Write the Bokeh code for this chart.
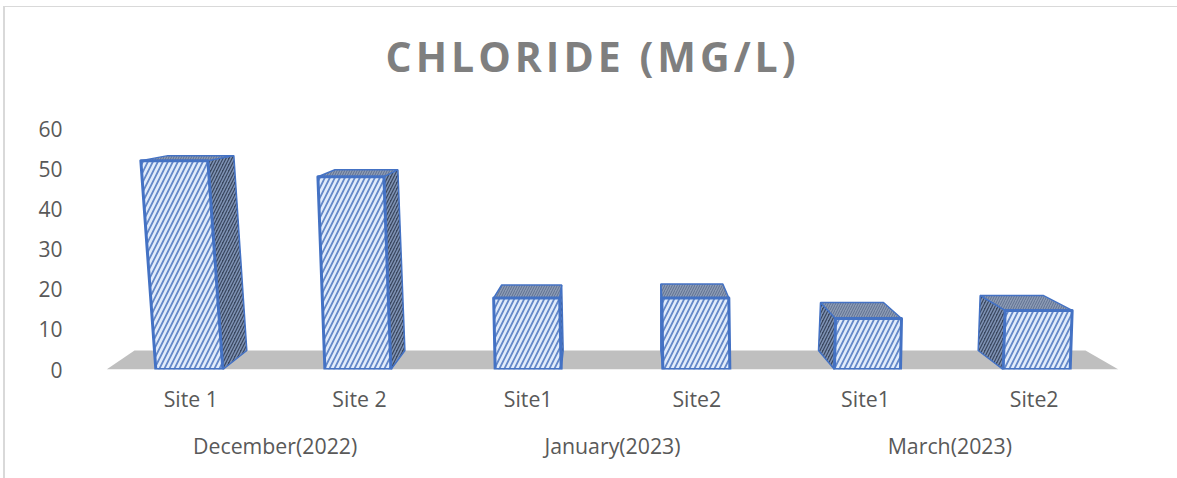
from bokeh.embed import file_html
from bokeh.resources import INLINE
from bokeh.plotting import figure
from bokeh.layouts import column
from bokeh.models import Range1d, LinearAxis, FixedTicker

months = ["December(2022)", "January(2023)", "March(2023)"]
sites = ["Site 1", "Site 2", "Site1", "Site2", "Site1", "Site2"]
chloride = [52, 48, 17.8, 17.8, 12.7, 14.7]
y_ticks = [0, 10, 20, 30, 40, 50, 60]

# perspective of the 3-D drawing, in screen pixels
FRONT_L = [-35, -34.6, -33, -34, -31, -31]
FRONT_R = [32, 31.4, 33, 33, 35, 36]
LEAN = [-15, -7, -1.5, -1, 1, 2]
BACK_BASE = [24, 14, 2, -2, -16, -25]
BACK_TL = [27, 17, 8, -1, -15, -25]
BACK_TR = [26, 14, 2, -6, -18, -29]
RISE_TOP = [5, 7, 13, 14, 16, 15]
RISE_BASE = 19
UX = 6 / 1012
UY = 60 / 241

BLUE = "#4472c4"
FRAME = "#d9d9d9"

head = figure(width=1177, height=110, output_backend="svg", toolbar_location=None,
              x_range=Range1d(0, 1), y_range=Range1d(0, 1),
              x_axis_type=None, y_axis_type=None,
              frame_width=1012, frame_height=2,
              min_border_left=106, min_border_right=59, min_border_top=0, min_border_bottom=0,
              outline_line_color=None, border_fill_color=None, background_fill_color=None,
              title="CHLORIDE (MG/L)")
head.styles = {"letter-spacing": "4px"}
head.grid.visible = False
head.title.align = "left"
head.title.offset = 279
head.title.text_font = "Open Sans"
head.title.text_font_style = "bold"
head.title.text_font_size = "41px"
head.title.text_color = "#7f7f7f"
head.title.standoff = 50

p = figure(width=1177, height=368, output_backend="svg", toolbar_location=None,
           x_range=Range1d(0, 6), y_range=Range1d(0, 60),
           x_axis_type=None, y_axis_type=None,
           min_border_left=106, min_border_right=59, min_border_bottom=109, min_border_top=18,
           frame_width=1012, frame_height=241,
           outline_line_color=None, border_fill_color=None, background_fill_color=None)
p.grid.visible = False

yaxis = LinearAxis(ticker=FixedTicker(ticks=y_ticks))
yaxis.axis_line_color = None
yaxis.major_tick_line_color = None
yaxis.minor_tick_line_color = None
yaxis.major_label_standoff = 38
yaxis.major_label_text_font = "Open Sans"
yaxis.major_label_text_font_size = "21px"
yaxis.major_label_text_color = "#595959"
p.add_layout(yaxis, "left")

site_ticks = [i + 0.5 for i in range(len(sites))]
xaxis = LinearAxis(ticker=FixedTicker(ticks=site_ticks),
                   major_label_overrides=dict(zip(site_ticks, sites)))
month_ticks = [1 + 2 * i for i in range(len(months))]
xaxis2 = LinearAxis(ticker=FixedTicker(ticks=month_ticks),
                    major_label_overrides=dict(zip(month_ticks, months)))
for ax, standoff in ((xaxis, 8), (xaxis2, 9)):
    ax.axis_line_color = None
    ax.major_tick_line_color = None
    ax.minor_tick_line_color = None
    ax.major_label_standoff = standoff
    ax.major_label_text_font = "Open Sans"
    ax.major_label_text_font_size = "21.3px"
    ax.major_label_text_color = "#595959"
    p.add_layout(ax, "below")

# floor
p.patch([0, 28 * UX, 979 * UX, 6], [0, RISE_BASE * UY, RISE_BASE * UY, 0],
        fill_color="#bfbfbf", line_color=None)

side_x, side_y, top_x, top_y, front_x, front_y = [], [], [], [], [], []
for i, v in enumerate(chloride):
    c = i + 0.5
    bl, br = c + FRONT_L[i] * UX, c + FRONT_R[i] * UX
    tl, tr = bl + LEAN[i] * UX, br + LEAN[i] * UX
    front_x.append([bl, tl, tr, br])
    front_y.append([0, v, v, 0])
    yb = v + RISE_TOP[i] * UY
    top_x.append([tl, tl + BACK_TL[i] * UX, tr + BACK_TR[i] * UX, tr])
    top_y.append([v, yb, yb, v])
    if BACK_BASE[i] > 0:
        side_x.append([br, tr, tr + BACK_TR[i] * UX, br + BACK_BASE[i] * UX])
    else:
        side_x.append([bl, tl, tl + BACK_TL[i] * UX, bl + BACK_BASE[i] * UX])
    side_y.append([0, v, yb, RISE_BASE * UY])

p.patches(side_x, side_y, fill_color="#3a475f", line_color=BLUE, line_width=1.5,
          hatch_pattern="right_diagonal_line", hatch_color="#7f93b5", hatch_scale=6, hatch_weight=1.5)
p.patches(top_x, top_y, fill_color="#8d9cb5", line_color=BLUE, line_width=1.5,
          hatch_pattern="right_diagonal_line", hatch_color="#5f7090", hatch_scale=5, hatch_weight=1)
p.patches(front_x, front_y, fill_color="#e1ecfb", line_color=BLUE, line_width=3, line_join="round",
          hatch_pattern="right_diagonal_line", hatch_color="#6488c8", hatch_scale=10, hatch_weight=1.8)

# slide frame: two thin rules behind both transparent figures
g = f"linear-gradient({FRAME},{FRAME})"
root = column(head, p, spacing=0, styles={
    "position": "absolute", "left": "0px", "top": "0px",
    "background": f"{g} 3px 6px/2px 472px no-repeat, {g} 3px 6px/1174px 1px no-repeat",
})
open("out.html", "w").write(file_html(root, INLINE))
